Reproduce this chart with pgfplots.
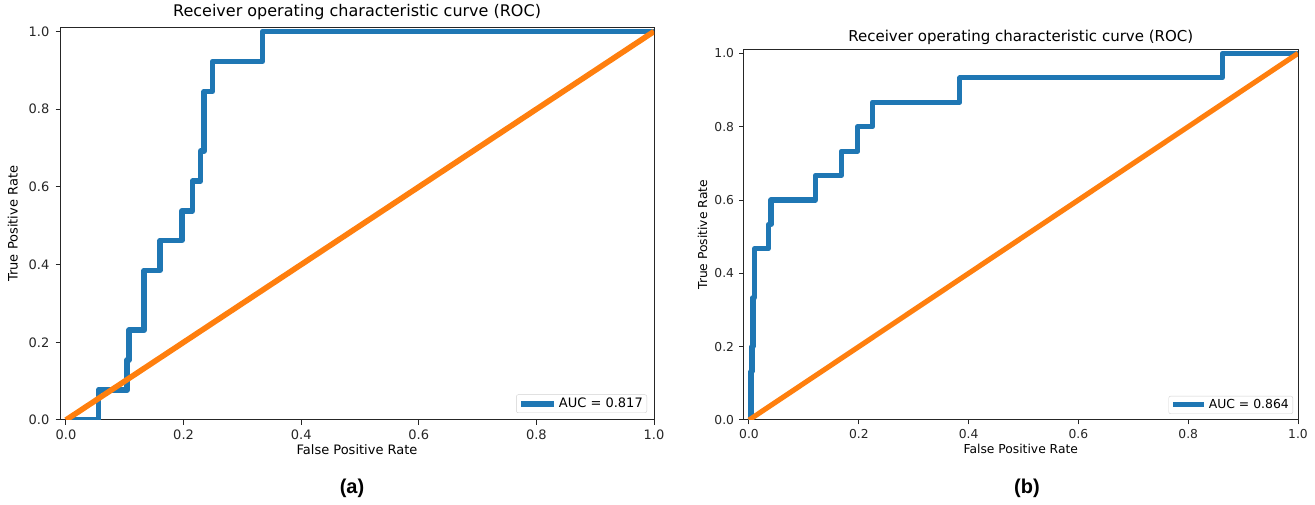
\documentclass[border=0pt]{standalone}
\usepackage{fontspec}
\setmainfont{DejaVu Sans}
\newfontfamily\labfont{Liberation Sans}
\usepackage{pgfplots}
\pgfplotsset{compat=1.18}
\definecolor{mblue}{HTML}{1F77B4}
\definecolor{morange}{HTML}{FF7F0E}
\definecolor{spine}{HTML}{262626}
\pgfplotsset{
  rocstyle/.style={
    scale only axis,
    xmin=-0.01, xmax=1.0, ymin=0, ymax=1.01,
    axis line style={line width=1pt, draw=spine},
    tick align=outside,
    xtick pos=lower, ytick pos=left,
    xtick={0,0.2,0.4,0.6,0.8,1.0},
    ytick={0,0.2,0.4,0.6,0.8,1.0},
    major tick style={line width=1pt, draw=spine},
    /pgf/number format/assume math mode=true,
    /pgf/number format/fixed,
    /pgf/number format/fixed zerofill,
    /pgf/number format/precision=1,
    xticklabel style={anchor=north, inner sep=0pt, text=spine},
    yticklabel style={anchor=east, inner sep=0pt, text=spine},
    every axis title shift=0pt,
    legend cell align=left,
    clip=true,
  }
}
\begin{document}
\begin{tikzpicture}
\path[use as bounding box] (0pt,0pt) rectangle (1315pt,505pt);

% ---------- (a) ----------
\begin{axis}[rocstyle,
  at={(60.1pt,85pt)}, anchor=south west,
  width=593.9pt, height=392.4pt,
  major tick length=4.6pt,
  xticklabel style={yshift=-5pt},
  yticklabel style={xshift=-6pt},
  tick label style={font=\fontsize{13}{15}\selectfont},
  title={Receiver operating characteristic curve (ROC)},
  title style={at={(axis description cs:0.5,1.0278)}, anchor=base, inner sep=0pt, font=\fontsize{16}{18}\selectfont},
  xlabel={False Positive Rate},
  xlabel style={at={(axis description cs:0.5,-0.0892)}, anchor=base, inner sep=0pt, font=\fontsize{13}{15}\selectfont},
  ylabel={True Positive Rate},
  ylabel style={at={(axis description cs:-0.0715,0.5)}, anchor=base, inner sep=0pt, font=\fontsize{13}{15}\selectfont},
  legend style={at={(1,0)}, anchor=south east, xshift=-7pt, yshift=7pt,
    draw=black!18, rounded corners=2pt, inner xsep=2pt, inner ysep=1.5pt,
    font=\fontsize{13}{15}\selectfont,
    /tikz/every even column/.append style={column sep=0pt}},
]
\addplot[mblue, line width=5.6pt, line join=round,
  legend image code/.code={\draw[mblue, line width=5.6pt] (0pt,0pt) -- (33pt,0pt);}]
  coordinates {
  (0,0) (0.055,0) (0.055,0.077) (0.104,0.077) (0.104,0.154) (0.107,0.154)
  (0.107,0.231) (0.133,0.231) (0.133,0.385) (0.160,0.385) (0.160,0.462)
  (0.197,0.462) (0.197,0.538) (0.215,0.538) (0.215,0.615) (0.229,0.615)
  (0.229,0.692) (0.235,0.692) (0.235,0.846) (0.249,0.846) (0.249,0.923)
  (0.334,0.923) (0.334,1.0) (1.0,1.0)
  };
\addlegendentry{AUC = 0.817}
\addplot[morange, line width=5.6pt, forget plot] coordinates {(0,0) (1,1)};
\end{axis}

% ---------- (b) ----------
\begin{axis}[rocstyle,
  at={(743.5pt,85pt)}, anchor=south west,
  width=554.5pt, height=370.3pt,
  major tick length=4.3pt,
  xticklabel style={yshift=-4.7pt},
  yticklabel style={xshift=-5pt},
  tick label style={font=\fontsize{12.3}{14}\selectfont},
  title={Receiver operating characteristic curve (ROC)},
  title style={at={(axis description cs:0.5,1.0208)}, anchor=base, inner sep=0pt, font=\fontsize{15}{17}\selectfont},
  xlabel={False Positive Rate},
  xlabel style={at={(axis description cs:0.5,-0.0918)}, anchor=base, inner sep=0pt, font=\fontsize{12.3}{14}\selectfont},
  ylabel={True Positive Rate},
  ylabel style={at={(axis description cs:-0.0658,0.5)}, anchor=base, inner sep=0pt, font=\fontsize{12.3}{14}\selectfont},
  legend style={at={(1,0)}, anchor=south east, xshift=-5pt, yshift=6pt,
    draw=black!18, rounded corners=2pt, inner xsep=2pt, inner ysep=1.5pt,
    font=\fontsize{12.4}{14}\selectfont,
    /tikz/every even column/.append style={column sep=0pt}},
]
\addplot[mblue, line width=5.1pt, line join=round,
  legend image code/.code={\draw[mblue, line width=5.1pt] (0pt,0pt) -- (31pt,0pt);}]
  coordinates {
  (0,0) (0.0036,0) (0.0036,0.133) (0.0055,0.133) (0.0055,0.200)
  (0.0073,0.200) (0.0073,0.333) (0.0103,0.333) (0.0103,0.467)
  (0.035,0.467) (0.035,0.533) (0.040,0.533) (0.040,0.600)
  (0.121,0.600) (0.121,0.667) (0.168,0.667) (0.168,0.733)
  (0.198,0.733) (0.198,0.800) (0.225,0.800) (0.225,0.867)
  (0.384,0.867) (0.384,0.933) (0.862,0.933) (0.862,1.0) (1.0,1.0)
  };
\addlegendentry{AUC = 0.864}
\addplot[morange, line width=5.1pt, forget plot] coordinates {(0,0) (1,1)};
\end{axis}

\node[anchor=base, inner sep=0pt, font=\labfont\bfseries\fontsize{20}{24}\selectfont] at (352pt,11pt) {(a)};
\node[anchor=base, inner sep=0pt, font=\labfont\bfseries\fontsize{20}{24}\selectfont] at (1027pt,11pt) {(b)};
\end{tikzpicture}
\end{document}
